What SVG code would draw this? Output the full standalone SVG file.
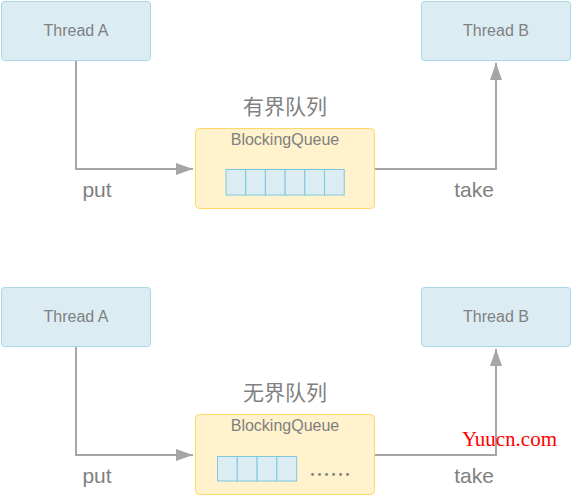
<svg xmlns="http://www.w3.org/2000/svg" width="572" height="495" viewBox="0 0 572 495">
<defs>
<style>
.thread{fill:#dbedf3;stroke:#a9d7e6;stroke-width:1}
.queue{fill:#fff2cc;stroke:#ffd966;stroke-width:1}
.cell{fill:#dbedf3;stroke:#7fc7dc;stroke-width:1}
.lbl{font-family:"Liberation Sans",Arial,sans-serif;font-size:16px;fill:#808080;text-anchor:middle}
.title{font-family:"Liberation Sans","Noto Sans CJK SC",sans-serif;font-size:21px;fill:#808080;text-anchor:middle}
.edge{font-family:"Liberation Sans",Arial,sans-serif;font-size:21px;fill:#808080;text-anchor:middle}
.conn{fill:none;stroke:#a6a6a6;stroke-width:2}
</style>
<marker id="arr" markerUnits="userSpaceOnUse" markerWidth="18" markerHeight="14" refX="17" refY="7" orient="auto">
<path d="M0,1 L17,7 L0,13 Z" fill="#a6a6a6"/>
</marker>
</defs>
<rect width="572" height="495" fill="#ffffff"/>

<g id="connectors">
<path class="conn" d="M76,61 V169 H193" marker-end="url(#arr)"/>
<path class="conn" d="M375,169 H496 V63" marker-end="url(#arr)"/>
<path class="conn" d="M76,347 V455 H193" marker-end="url(#arr)"/>
<path class="conn" d="M375,455 H496 V349" marker-end="url(#arr)"/>
<text class="edge" x="97" y="197">put</text>
<text class="edge" x="474" y="197">take</text>
<text class="edge" x="97" y="483">put</text>
<text class="edge" x="474" y="483">take</text>
</g>

<g id="threadA1">
<rect class="thread" x="1.5" y="1.5" width="149" height="59" rx="3"/>
<text class="lbl" x="76" y="36">Thread A</text>
</g>
<g id="threadB1">
<rect class="thread" x="421.5" y="1.5" width="149" height="59" rx="3"/>
<text class="lbl" x="496" y="36">Thread B</text>
</g>
<g id="queue1">
<text class="title" x="285" y="114">有界队列</text>
<rect class="queue" x="195.5" y="128.5" width="179" height="80" rx="4"/>
<text class="lbl" x="285" y="145">BlockingQueue</text>
<rect class="cell" x="226" y="169.5" width="19.7" height="25.5"/>
<rect class="cell" x="245.7" y="169.5" width="19.7" height="25.5"/>
<rect class="cell" x="265.4" y="169.5" width="19.7" height="25.5"/>
<rect class="cell" x="285.1" y="169.5" width="19.7" height="25.5"/>
<rect class="cell" x="304.8" y="169.5" width="19.7" height="25.5"/>
<rect class="cell" x="324.5" y="169.5" width="19.7" height="25.5"/>
</g>

<g id="threadA2">
<rect class="thread" x="1.5" y="287.5" width="149" height="59" rx="3"/>
<text class="lbl" x="76" y="322">Thread A</text>
</g>
<g id="threadB2">
<rect class="thread" x="421.5" y="287.5" width="149" height="59" rx="3"/>
<text class="lbl" x="496" y="322">Thread B</text>
</g>
<g id="queue2">
<text class="title" x="285" y="400">无界队列</text>
<rect class="queue" x="195.5" y="414.5" width="179" height="80" rx="4"/>
<text class="lbl" x="285" y="431">BlockingQueue</text>
<rect class="cell" x="217.5" y="456.5" width="19.8" height="24.5"/>
<rect class="cell" x="237.3" y="456.5" width="19.8" height="24.5"/>
<rect class="cell" x="257.1" y="456.5" width="19.8" height="24.5"/>
<rect class="cell" x="276.9" y="456.5" width="19.8" height="24.5"/>
<text x="330" y="482" font-family="'Noto Sans CJK SC',sans-serif" font-size="21" fill="#808080" text-anchor="middle">……</text>
</g>

<text x="462" y="446" font-family="'Liberation Serif',serif" font-size="20" fill="#ff0000" textLength="95" lengthAdjust="spacingAndGlyphs">Yuucn.com</text>
</svg>
